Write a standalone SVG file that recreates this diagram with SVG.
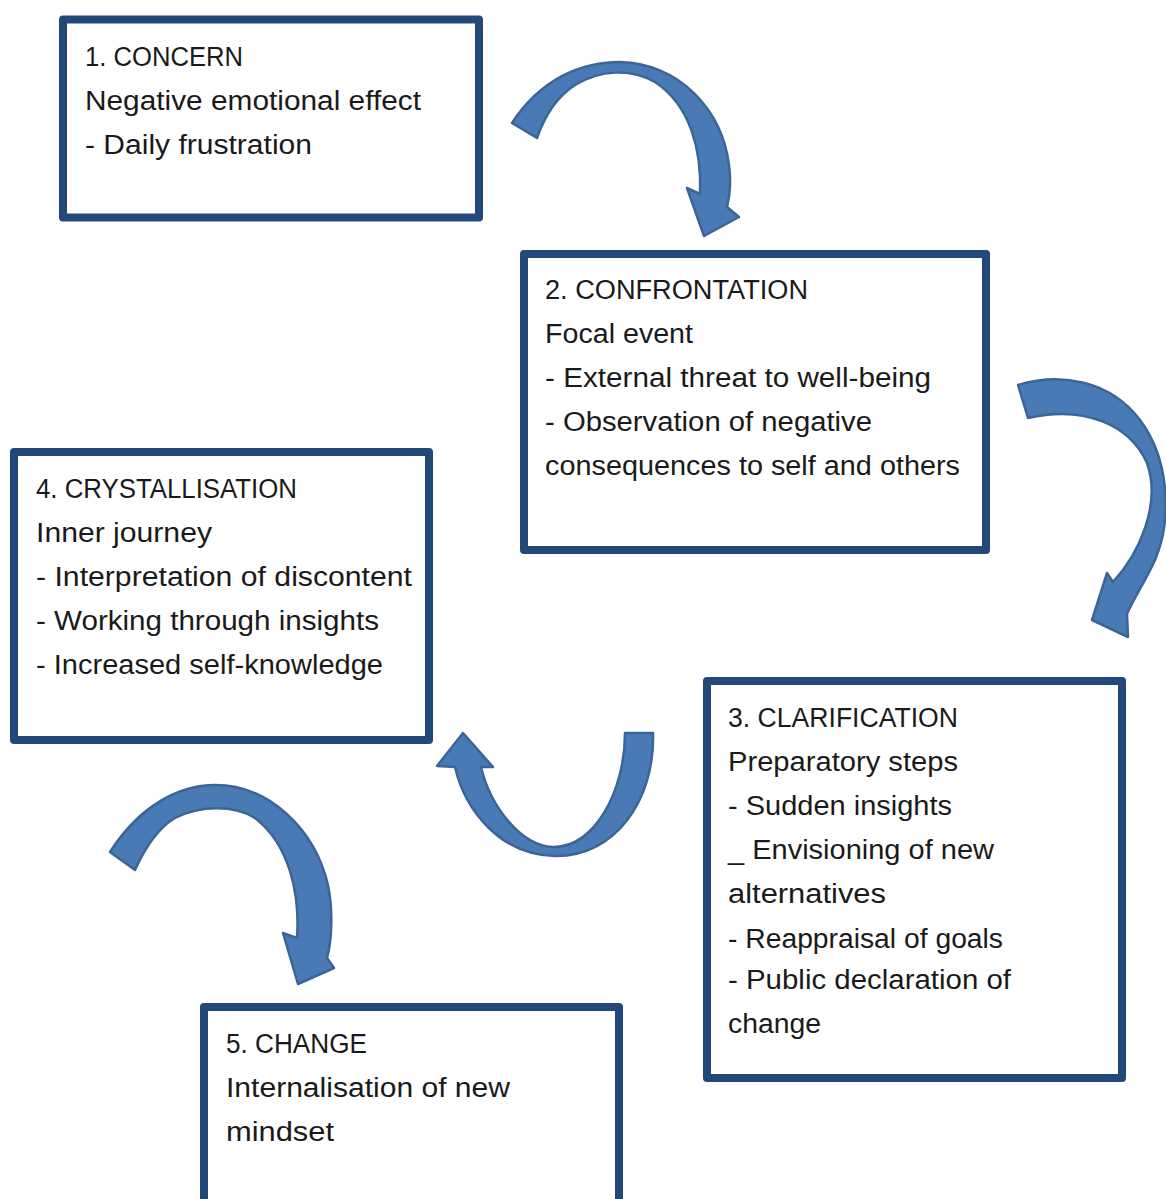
<svg xmlns="http://www.w3.org/2000/svg" width="1166" height="1199" viewBox="0 0 1166 1199">
<style>
.box{fill:#fff;stroke:#23497a;stroke-width:8;stroke-linejoin:round}
.t{font-family:"Liberation Sans",Arial,sans-serif;font-size:27px;fill:#1a1a1a}
.arr{fill:#4a7ab6;stroke:#3b6597;stroke-width:2.5;stroke-linejoin:round}
</style>
<rect width="1166" height="1199" fill="#fff"/>
<g id="connectors">
<path class="arr" d="M 512,123 C 540,80 580,62 620,62 C 680,64 722,110 729,165 C 731,180 730,195 727,207 L 739,217 L 704,236 L 687,188 L 700,194 C 702,150 690,105 655,82 C 630,68 600,70 575,85 C 558,96 545,115 537,138 Z"/>
<path class="arr" d="M 1018,385 C 1060,372 1110,380 1140,420 C 1170,460 1172,520 1155,560 C 1146,580 1134,598 1127,614 L 1128,637 L 1092,620 L 1107,573 L 1113,582 C 1138,555 1162,505 1147,463 C 1130,425 1085,405 1028,418 Z"/>
<path class="arr" d="M 625,733 L 653,733 C 655,800 615,857 555,856 C 500,855 465,810 455,767 L 437,766 L 463,733 L 493,767 L 481,767 C 490,805 520,846 553,847 C 595,848 625,790 625,733 Z"/>
<path class="arr" d="M 110,852 C 140,805 180,785 215,785 C 270,785 315,830 328,885 C 333,910 332,940 327,958 L 334,968 L 298,984 L 283,933 L 297,938 C 300,895 290,845 255,818 C 235,805 200,805 175,818 C 158,828 145,848 135,870 Z"/>
</g>
<g id="node1">
<rect class="box" x="63" y="19.5" width="416" height="198"/>
<text class="t" x="85" y="66" textLength="158" lengthAdjust="spacingAndGlyphs">1. CONCERN</text>
<text class="t" x="85" y="110" textLength="336" lengthAdjust="spacingAndGlyphs">Negative emotional effect</text>
<text class="t" x="85" y="154" textLength="227" lengthAdjust="spacingAndGlyphs">- Daily frustration</text>
</g>
<g id="node2">
<rect class="box" x="524" y="254" width="462" height="296"/>
<text class="t" x="545" y="299" textLength="263" lengthAdjust="spacingAndGlyphs">2. CONFRONTATION</text>
<text class="t" x="545" y="343" textLength="148" lengthAdjust="spacingAndGlyphs">Focal event</text>
<text class="t" x="545" y="387" textLength="386" lengthAdjust="spacingAndGlyphs">- External threat to well-being</text>
<text class="t" x="545" y="431" textLength="327" lengthAdjust="spacingAndGlyphs">- Observation of negative</text>
<text class="t" x="545" y="475" textLength="415" lengthAdjust="spacingAndGlyphs">consequences to self and others</text>
</g>
<g id="node3">
<rect class="box" x="707" y="681" width="415" height="397"/>
<text class="t" x="728" y="727" textLength="230" lengthAdjust="spacingAndGlyphs">3. CLARIFICATION</text>
<text class="t" x="728" y="771" textLength="230" lengthAdjust="spacingAndGlyphs">Preparatory steps</text>
<text class="t" x="728" y="815" textLength="224" lengthAdjust="spacingAndGlyphs">- Sudden insights</text>
<text class="t" x="728" y="859" textLength="266" lengthAdjust="spacingAndGlyphs">_ Envisioning of new</text>
<text class="t" x="728" y="903" textLength="158" lengthAdjust="spacingAndGlyphs">alternatives</text>
<text class="t" x="728" y="948" textLength="275" lengthAdjust="spacingAndGlyphs">- Reappraisal of goals</text>
<text class="t" x="728" y="989" textLength="283" lengthAdjust="spacingAndGlyphs">- Public declaration of</text>
<text class="t" x="728" y="1033" textLength="93" lengthAdjust="spacingAndGlyphs">change</text>
</g>
<g id="node4">
<rect class="box" x="14" y="452" width="415" height="288"/>
<text class="t" x="36" y="498" textLength="261" lengthAdjust="spacingAndGlyphs">4. CRYSTALLISATION</text>
<text class="t" x="36" y="542" textLength="176" lengthAdjust="spacingAndGlyphs">Inner journey</text>
<text class="t" x="36" y="586" textLength="376" lengthAdjust="spacingAndGlyphs">- Interpretation of discontent</text>
<text class="t" x="36" y="630" textLength="343" lengthAdjust="spacingAndGlyphs">- Working through insights</text>
<text class="t" x="36" y="674" textLength="347" lengthAdjust="spacingAndGlyphs">- Increased self-knowledge</text>
</g>
<g id="node5">
<rect class="box" x="204" y="1007" width="415" height="200"/>
<text class="t" x="226" y="1053" textLength="141" lengthAdjust="spacingAndGlyphs">5. CHANGE</text>
<text class="t" x="226" y="1097" textLength="284" lengthAdjust="spacingAndGlyphs">Internalisation of new</text>
<text class="t" x="226" y="1141" textLength="108" lengthAdjust="spacingAndGlyphs">mindset</text>
</g>
</svg>
